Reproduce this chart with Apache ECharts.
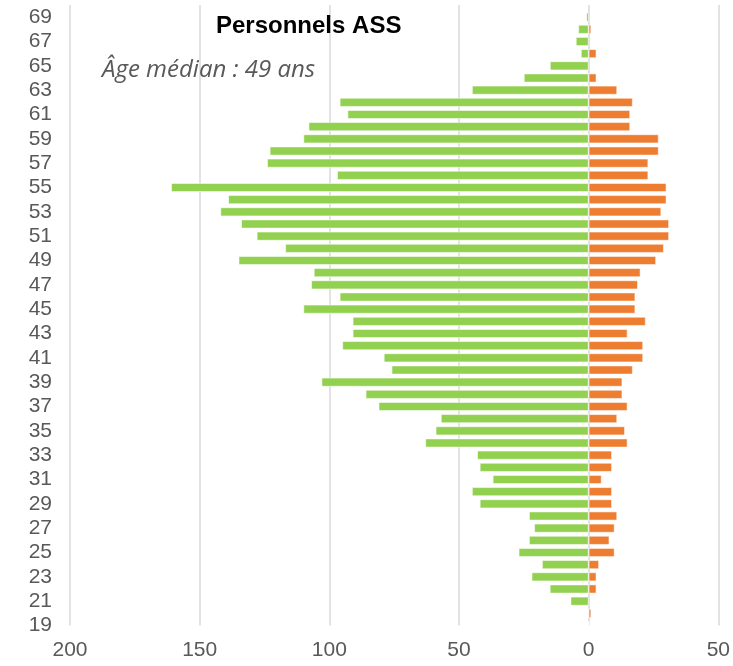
<!DOCTYPE html>
<html>
<head>
<meta charset="utf-8">
<title>Personnels ASS</title>
<script src="https://cdn.jsdelivr.net/npm/echarts@6/dist/echarts.min.js"></script>
<style>
  html, body { margin: 0; padding: 0; background: #fff; }
  #pyramide { width: 733px; height: 666px; }
</style>
</head>
<body>
<div id="pyramide"></div>
<script>
// ages de 19 a 70 (70 = bord haut, sans barre)
var ages = ['19','20','21','22','23','24','25','26','27','28','29','30','31','32','33','34','35','36','37','38',
  '39','40','41','42','43','44','45','46','47','48','49','50','51','52','53','54','55','56','57','58',
  '59','60','61','62','63','64','65','66','67','68','69','70'];

// effectifs cote gauche (vert)
var femmes = [0, 0, 7, 15, 22, 18, 27, 23, 21, 23, 42, 45, 37, 42, 43, 63, 59, 57, 81, 86,
  103, 76, 79, 95, 91, 91, 110, 96, 107, 106, 135, 117, 128, 134, 142, 139, 161, 97, 124, 123,
  110, 108, 93, 96, 45, 25, 15, 3, 5, 4, 1, null];

// effectifs cote droit (orange)
var hommes = [0, 1, 0, 3, 3, 4, 10, 8, 10, 11, 9, 9, 5, 9, 9, 15, 14, 11, 15, 13,
  13, 17, 21, 21, 15, 22, 18, 18, 19, 20, 26, 29, 31, 31, 28, 30, 30, 23, 23, 27,
  27, 16, 16, 17, 11, 3, 0, 3, 0, 1, 0, null];

// graduations de l'axe horizontal
var xMin = -200;
var xMax = 50;
var xPas = 50;

var titre = 'Personnels ASS';
var sousTitre = 'Âge médian : 49 ans';

var myChart = echarts.init(document.getElementById('pyramide'));
myChart.setOption({
  animation: false,
  title: [
    {
      text: titre,
      left: 211,
      top: 9,
      textStyle: { fontFamily: 'Liberation Sans, Arial', fontSize: 24, fontWeight: 'bold', color: '#000' }
    },
    {
      text: sousTitre,
      left: 97,
      top: 53,
      textStyle: { fontFamily: 'Open Sans', fontSize: 24, fontStyle: 'italic', fontWeight: 'normal', color: '#595959' }
    }
  ],
  grid: { left: 70, right: 11, top: 5, bottom: 40.5, containLabel: false },
  xAxis: {
    type: 'value',
    min: xMin,
    max: xMax,
    interval: xPas,
    axisLine: { show: false },
    axisTick: { show: false },
    splitLine: { lineStyle: { color: '#d9d9d9', width: 1.5 } },
    axisLabel: {
      margin: 14,
      fontFamily: 'Liberation Sans, Arial',
      fontSize: 21,
      color: '#595959',
      formatter: function (v) { return Math.abs(v); }
    }
  },
  yAxis: {
    type: 'category',
    data: ages,
    boundaryGap: false,
    axisLine: { show: false },
    axisTick: { show: false },
    splitLine: { show: false },
    axisLabel: {
      interval: 1,
      margin: 18,
      fontFamily: 'Liberation Sans, Arial',
      fontSize: 21,
      color: '#595959'
    }
  },
  series: [
    {
      name: 'femmes',
      type: 'bar',
      stack: 'age',
      barWidth: 9,
      itemStyle: { color: '#92d050', borderColor: 'rgba(255,255,255,0.7)', borderWidth: 0.8 },
      data: femmes.map(function (v) { return v === null ? null : -v; })
    },
    {
      name: 'hommes',
      type: 'bar',
      stack: 'age',
      barWidth: 9,
      itemStyle: { color: '#ed7d31', borderColor: 'rgba(255,255,255,0.7)', borderWidth: 0.8 },
      data: hommes
    }
  ]
});
</script>
</body>
</html>
